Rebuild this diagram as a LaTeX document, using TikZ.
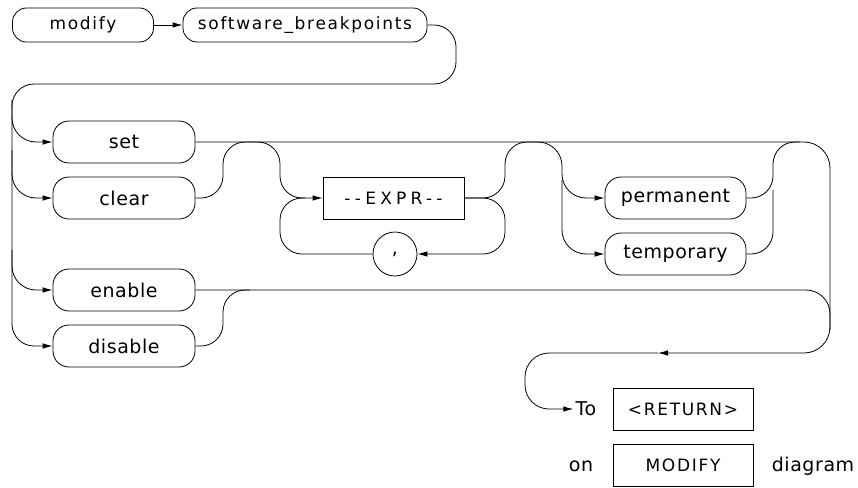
\documentclass[tikz,border=0pt]{standalone}
\usepackage{fontspec}
\newfontfamily\dfont{DejaVu Sans}[LetterSpace=3,Ligatures=ResetAll]
\newfontfamily\tfont{DejaVu Sans}[LetterSpace=10,Ligatures=ResetAll]
\newfontfamily\efont{DejaVu Sans}[LetterSpace=25,Ligatures=ResetAll]
\usetikzlibrary{arrows.meta}
\begin{document}
\begin{tikzpicture}[x=1pt,y=-1pt,line width=0.8pt,
  font=\dfont\fontsize{19}{22}\selectfont,
  kw/.style={draw,rounded corners=16pt,minimum height=42pt,minimum width=142pt,inner sep=0pt},
  kws/.style={draw,rounded corners=14pt,minimum height=34pt,inner sep=0pt,font=\tfont\fontsize{17}{20}\selectfont},
  bx/.style={draw,minimum height=42pt,minimum width=141pt,inner sep=0pt,font=\tfont\fontsize{17}{20}\selectfont},
  arr/.style={-{Latex[length=10pt,width=5.5pt]}},
  lbl/.style={inner sep=2pt}]
\useasboundingbox (0,0) rectangle (858,487);
% nodes
\node[kws,minimum width=141pt] (modify) at (83,25) {modify};
\node[kws,minimum width=244pt] (sw) at (305,25) {software\_breakpoints};
\node[kw] (set) at (124,142) {set};
\node[kw] (clear) at (124,198) {clear};
\node[kw] (enable) at (124,290) {enable};
\node[kw] (disable) at (124,346) {disable};
\node[bx,font=\efont\fontsize{17}{20}\selectfont] (expr) at (393.5,198) {--EXPR--};
\node[draw,circle,minimum size=44pt,inner sep=0pt] (comma) at (395,254) {,};
\node[kw,minimum width=141pt] (perm) at (675.5,198) {permanent};
\node[kw,minimum width=141pt] (temp) at (675.5,254) {temporary};
\node[bx,minimum width=140pt] (ret) at (683,409) {<RETURN>};
\node[bx,minimum width=140pt] (mod) at (683,465.5) {MODIFY};
\node[lbl] (to) at (586,409) {To};
\node[lbl] (on) at (581,466) {on};
\node[lbl] (diag) at (813,466) {diagram};
\coordinate (m1) at (658,353);
% connectors
\draw[arr] (modify) -- (sw);
\draw[arr,rounded corners=22pt] (sw.east) -- (456,25) -- (456,84) -- (12,84) -- (12,346) -- (disable.west);
\draw[arr,rounded corners=24pt] (12,100) -- (12,142) -- (set.west);
\draw[arr,rounded corners=24pt] (12,150) -- (12,198) -- (clear.west);
\draw[arr,rounded corners=24pt] (12,250) -- (12,290) -- (enable.west);
\draw[arr,rounded corners=26pt] (set.east) -- (830,142) -- (830,353) -- (m1);
\draw[arr,rounded corners=24pt] (m1) -- (525,353) -- (525,409) -- (to.west);
\draw[arr,rounded corners=22pt] (clear.east) -- (223,198) -- (223,142) -- (280,142) -- (280,198) -- (expr.west);
\draw[rounded corners=22pt] (comma.west) -- (280,254) -- (280,198) -- (305,198);
\draw[arr,rounded corners=22pt] (expr.east) -- (505,198) -- (505,254) -- (comma.east);
\draw[rounded corners=22pt] (expr.east) -- (505,198) -- (505,142) -- (530,142);
\draw[arr,rounded corners=24pt] (530,142) -- (562,142) -- (562,198) -- (perm.west);
\draw[arr,rounded corners=24pt] (562,180) -- (562,254) -- (temp.west);
\draw[rounded corners=22pt] (perm.east) -- (773,198) -- (773,142) -- (800,142);
\draw[rounded corners=22pt] (temp.east) -- (773,254) -- (773,190);
\draw[rounded corners=24pt] (enable.east) -- (830,290) -- (830,330);
\draw[rounded corners=22pt] (disable.east) -- (223,346) -- (223,290) -- (250,290);
\end{tikzpicture}
\end{document}
